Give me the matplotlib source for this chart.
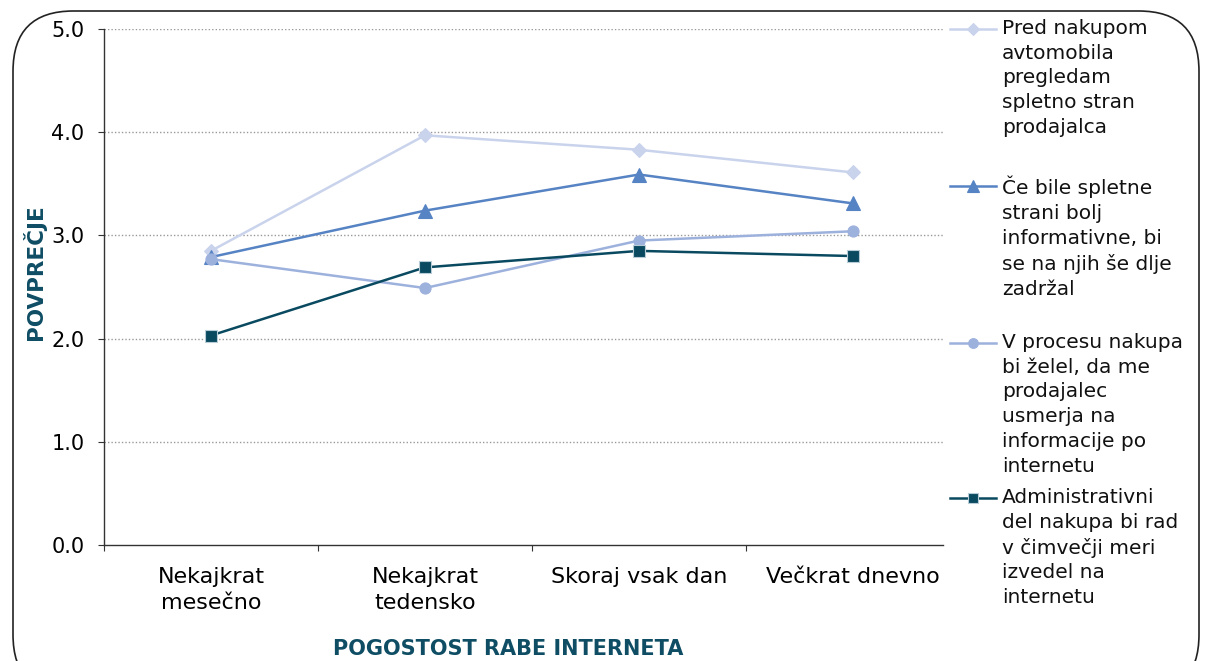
import matplotlib
matplotlib.use("Agg")
import matplotlib.pyplot as plt
from matplotlib.lines import Line2D
from matplotlib.patches import FancyBboxPatch

W, H = 1206, 661

categories = ["Nekajkrat\nmesečno", "Nekajkrat\ntedensko", "Skoraj vsak dan", "Večkrat dnevno"]
series_names = [
    "Pred nakupom\navtomobila\npregledam\nspletno stran\nprodajalca",
    "Če bile spletne\nstrani bolj\ninformativne, bi\nse na njih še dlje\nzadržal",
    "V procesu nakupa\nbi želel, da me\nprodajalec\nusmerja na\ninformacije po\ninternetu",
    "Administrativni\ndel nakupa bi rad\nv čimvečji meri\nizvedel na\ninternetu",
]
pred_nakupom = [2.85, 3.97, 3.83, 3.61]
bolj_informativne = [2.79, 3.24, 3.59, 3.31]
usmerjanje = [2.77, 2.49, 2.95, 3.04]
administrativni = [2.03, 2.69, 2.85, 2.80]
y_ticks = [0.0, 1.0, 2.0, 3.0, 4.0, 5.0]

series = [pred_nakupom, bolj_informativne, usmerjanje, administrativni]
colors = ["#C9D3EC", "#5683C3", "#9DB1DD", "#0A4A60"]
markers = ["D", "^", "o", "s"]
msizes = [7, 10, 8, 8]
medges = ["#C9D3EC", "#5683C3", "#9DB1DD", "#B8CCD8"]

title_color = "#0E4D64"

fig = plt.figure(figsize=(W / 100, H / 100), dpi=100)


def fx(x):
    return x / W


def fy(y):
    return 1 - y / H


# rounded frame around the whole chart
frame = FancyBboxPatch((fx(13), fy(695)), fx(1199) - fx(13), fy(11) - fy(695),
                       boxstyle="round,pad=0,rounding_size=0.05",
                       transform=fig.transFigure, fill=False,
                       edgecolor="#222222", linewidth=1.2, mutation_aspect=W / H)
fig.patches.append(frame)

ax = fig.add_axes([fx(104), fy(545), fx(943) - fx(104), fy(29) - fy(545)])
slot = 214.0
x_right = -0.5 + (943 - 104) / slot
ax.set_xlim(-0.5, x_right)
ax.set_ylim(0, 5)

xs = list(range(len(categories)))
for vals, c, m, ms, me in zip(series, colors, markers, msizes, medges):
    ax.plot(xs, vals, color=c, marker=m, markersize=ms, markeredgecolor=me,
            markeredgewidth=0.8, linewidth=1.8, clip_on=False, zorder=3)

ax.set_yticks(y_ticks)
ax.set_yticklabels([f"{v:.1f}" for v in y_ticks], fontsize=15, family="DejaVu Sans")
for v in y_ticks[1:]:
    ax.axhline(v, color="#999999", linestyle=(0, (1, 1.5)), linewidth=1.0, zorder=1)

ax.set_xticks([-0.5, 0.5, 1.5, 2.5])
ax.set_xticklabels([])
ax.set_xticks(xs, minor=True)
ax.set_xticklabels(categories, minor=True, fontsize=16, family="DejaVu Sans",
                   linespacing=1.38)
ax.tick_params(axis="x", which="minor", length=0, pad=16)
ax.tick_params(axis="x", which="major", length=4.5, direction="out", color="#333333")
ax.tick_params(axis="y", length=4.5, direction="out", color="#333333", pad=9.5)

for s in ("top", "right"):
    ax.spines[s].set_visible(False)
for s in ("left", "bottom"):
    ax.spines[s].set_color("#333333")
    ax.spines[s].set_linewidth(1.0)

fig.text(fx(34), fy(272), "POVPREČJE", rotation=90, ha="center", va="center",
         fontsize=15.5, fontweight="bold", color=title_color, family="DejaVu Sans")
fig.text(fx(508), fy(649), "POGOSTOST RABE INTERNETA", ha="center", va="center",
         fontsize=15, fontweight="bold", color=title_color, family="DejaVu Sans")

# legend entries placed in fixed slots to the right of the plot
entry_tops = [29, 186, 343, 498]
for name, top, c, m, ms, me in zip(series_names, entry_tops, colors, markers, msizes, medges):
    fig.add_artist(Line2D([fx(950), fx(996)], [fy(top), fy(top)], transform=fig.transFigure,
                          color=c, linewidth=1.8))
    fig.add_artist(Line2D([fx(973)], [fy(top)], transform=fig.transFigure, color=c,
                          marker=m, markersize=ms - 1, markeredgecolor=me,
                          markeredgewidth=0.8, linestyle="none"))
    fig.text(fx(1002), fy(top - 10), name, ha="left", va="top", fontsize=14.5,
             family="DejaVu Sans", linespacing=1.38, color="#111111")

fig.savefig("out.png", dpi=100)
